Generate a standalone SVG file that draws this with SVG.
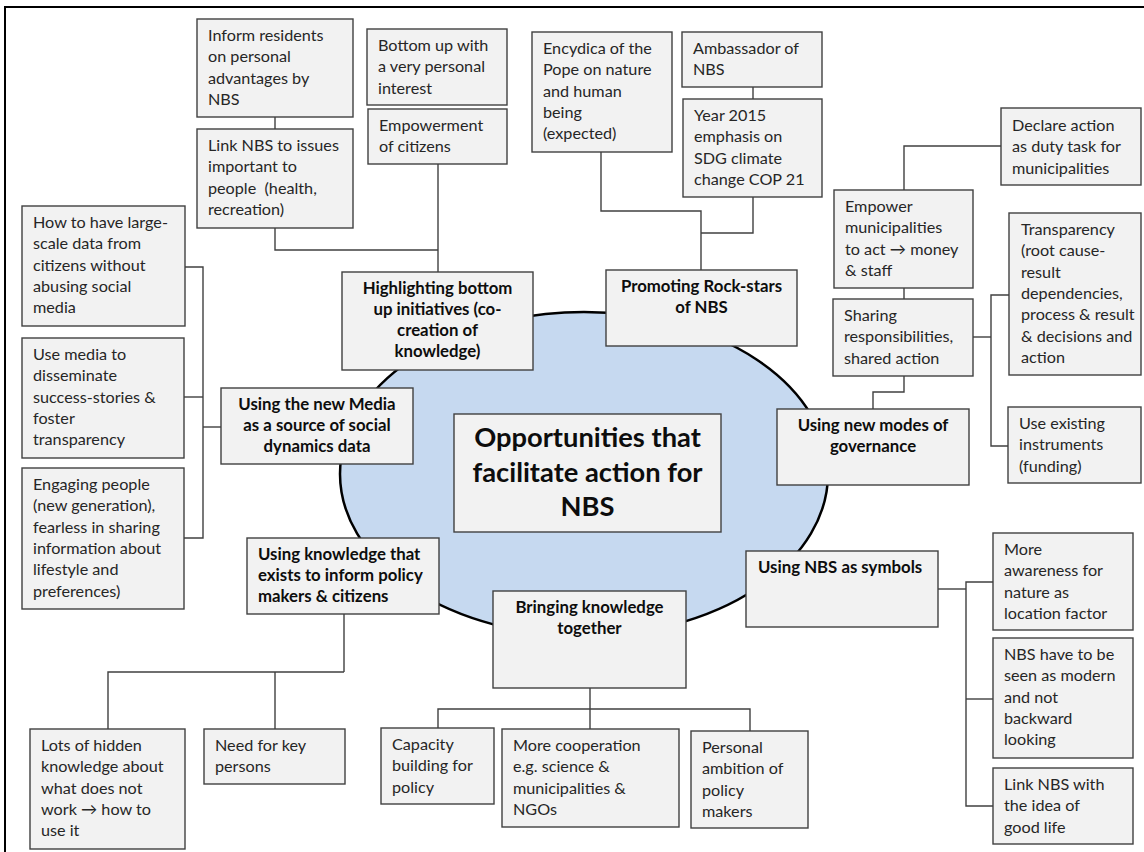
<svg xmlns="http://www.w3.org/2000/svg" width="1144" height="852" viewBox="0 0 1144 852">
<style>
.box{fill:#f2f2f2;stroke:#404040;stroke-width:1.4}
.t{font-family:Lato,"Liberation Sans",sans-serif;font-size:16.2px;fill:#262626}
.b{font-family:Lato,"Liberation Sans",sans-serif;font-size:16.8px;font-weight:bold;fill:#0d0d0d;text-anchor:middle}
.bl{font-family:Lato,"Liberation Sans",sans-serif;font-size:16.8px;font-weight:bold;fill:#0d0d0d}
.c{font-family:Lato,"Liberation Sans",sans-serif;font-size:27.3px;font-weight:bold;fill:#0d0d0d;text-anchor:middle}
.ln{fill:none;stroke:#404040;stroke-width:1.4}
</style>
<rect width="1144" height="852" fill="#fff"/>
<path d="M5,852 V7 H1144" fill="none" stroke="#000" stroke-width="2"/>
<ellipse cx="584" cy="474" rx="244" ry="162" fill="#c6d9f0" stroke="#000" stroke-width="2.5"/>
<g id="connectors" class="ln">
<path d="M275,117 V129"/>
<path d="M275,228 V250 H438"/>
<path d="M438,164 V272"/>
<path d="M601,152 V211 H701 V270"/>
<path d="M753,197 V233 H701"/>
<path d="M753,87 V99"/>
<path d="M1001,146 H904 V190"/>
<path d="M904,288 V299"/>
<path d="M904,376 V392 H873 V409"/>
<path d="M973,337 H991"/>
<path d="M1009,295 H991 V446 H1008"/>
<path d="M185,267 H203 V538 H184"/>
<path d="M184,397 H203"/>
<path d="M203,427 H221"/>
<path d="M344,614 V672"/>
<path d="M108,729 V672 H344"/>
<path d="M275,672 V729"/>
<path d="M590,688 V729"/>
<path d="M438,728 V709 H750 V731"/>
<path d="M938,589 H966"/>
<path d="M993,582 H966 V806 H993"/>
<path d="M966,699 H993"/>
</g>
<g id="center">
<rect class="box" x="454" y="414" width="267" height="118"/>
<text class="c" x="587.5" y="447"><tspan x="587.5">Opportunities that</tspan><tspan x="587.5" dy="34.5">facilitate action for</tspan><tspan x="587.5" dy="34.5">NBS</tspan></text>
</g>
<g id="inform">
<rect class="box" x="197" y="19" width="156" height="98"/>
<text class="t" x="208" y="41"><tspan x="208">Inform residents</tspan><tspan x="208" dy="21.3">on personal</tspan><tspan x="208" dy="21.3">advantages by</tspan><tspan x="208" dy="21.3">NBS</tspan></text>
</g>
<g id="linkissues">
<rect class="box" x="197" y="129" width="156" height="99"/>
<text class="t" x="208" y="151"><tspan x="208">Link NBS to issues</tspan><tspan x="208" dy="21.3">important to</tspan><tspan x="208" dy="21.3">people &#160;(health,</tspan><tspan x="208" dy="21.3">recreation)</tspan></text>
</g>
<g id="bottomup">
<rect class="box" x="367" y="29" width="140" height="76"/>
<text class="t" x="378" y="51"><tspan x="378">Bottom up with</tspan><tspan x="378" dy="21.3">a very personal</tspan><tspan x="378" dy="21.3">interest</tspan></text>
</g>
<g id="empowerment">
<rect class="box" x="368" y="109" width="139" height="55"/>
<text class="t" x="379" y="131"><tspan x="379">Empowerment</tspan><tspan x="379" dy="21.3">of citizens</tspan></text>
</g>
<g id="encydica">
<rect class="box" x="532" y="32" width="140" height="120"/>
<text class="t" x="543" y="54"><tspan x="543">Encydica of the</tspan><tspan x="543" dy="21.3">Pope on nature</tspan><tspan x="543" dy="21.3">and human</tspan><tspan x="543" dy="21.3">being</tspan><tspan x="543" dy="21.3">(expected)</tspan></text>
</g>
<g id="ambassador">
<rect class="box" x="682" y="32" width="140" height="55"/>
<text class="t" x="693" y="54"><tspan x="693">Ambassador of</tspan><tspan x="693" dy="21.3">NBS</tspan></text>
</g>
<g id="year2015">
<rect class="box" x="683" y="99" width="139" height="98"/>
<text class="t" x="694" y="121"><tspan x="694">Year 2015</tspan><tspan x="694" dy="21.3">emphasis on</tspan><tspan x="694" dy="21.3">SDG climate</tspan><tspan x="694" dy="21.3">change COP 21</tspan></text>
</g>
<g id="declare">
<rect class="box" x="1001" y="108" width="140" height="77"/>
<text class="t" x="1012" y="131"><tspan x="1012">Declare action</tspan><tspan x="1012" dy="21.3">as duty task for</tspan><tspan x="1012" dy="21.3">municipalities</tspan></text>
</g>
<g id="empower">
<rect class="box" x="834" y="190" width="139" height="98"/>
<text class="t" x="845" y="212"><tspan x="845">Empower</tspan><tspan x="845" dy="21.3">municipalities</tspan><tspan x="845" dy="21.3">to act → money</tspan><tspan x="845" dy="21.3">&amp; staff</tspan></text>
</g>
<g id="sharing">
<rect class="box" x="833" y="299" width="140" height="77"/>
<text class="t" x="844" y="321"><tspan x="844">Sharing</tspan><tspan x="844" dy="21.3">responsibilities,</tspan><tspan x="844" dy="21.3">shared action</tspan></text>
</g>
<g id="transparency">
<rect class="box" x="1009" y="213" width="132" height="162"/>
<text class="t" x="1021" y="235"><tspan x="1021">Transparency</tspan><tspan x="1021" dy="21.3">(root cause-</tspan><tspan x="1021" dy="21.3">result</tspan><tspan x="1021" dy="21.3">dependencies,</tspan><tspan x="1021" dy="21.3">process &amp; result</tspan><tspan x="1021" dy="21.3">&amp; decisions and</tspan><tspan x="1021" dy="21.3">action</tspan></text>
</g>
<g id="existing">
<rect class="box" x="1008" y="407" width="133" height="76"/>
<text class="t" x="1019" y="429"><tspan x="1019">Use existing</tspan><tspan x="1019" dy="21.3">instruments</tspan><tspan x="1019" dy="21.3">(funding)</tspan></text>
</g>
<g id="governance">
<rect class="box" x="777" y="409" width="192" height="76"/>
<text class="b" x="873" y="431"><tspan x="873">Using new modes of</tspan><tspan x="873" dy="21">governance</tspan></text>
</g>
<g id="promoting">
<rect class="box" x="606" y="270" width="191" height="76"/>
<text class="b" x="701.5" y="292"><tspan x="701.5">Promoting Rock-stars</tspan><tspan x="701.5" dy="21">of NBS</tspan></text>
</g>
<g id="highlighting">
<rect class="box" x="342" y="272" width="191" height="98"/>
<text class="b" x="437.5" y="294"><tspan x="437.5">Highlighting bottom</tspan><tspan x="437.5" dy="21">up initiatives (co-</tspan><tspan x="437.5" dy="21">creation of</tspan><tspan x="437.5" dy="21">knowledge)</tspan></text>
</g>
<g id="howto">
<rect class="box" x="22" y="206" width="163" height="120"/>
<text class="t" x="33" y="228"><tspan x="33">How to have large-</tspan><tspan x="33" dy="21.3">scale data from</tspan><tspan x="33" dy="21.3">citizens without</tspan><tspan x="33" dy="21.3">abusing social</tspan><tspan x="33" dy="21.3">media</tspan></text>
</g>
<g id="usemedia">
<rect class="box" x="22" y="338" width="162" height="120"/>
<text class="t" x="33" y="360"><tspan x="33">Use media to</tspan><tspan x="33" dy="21.3">disseminate</tspan><tspan x="33" dy="21.3">success-stories &amp;</tspan><tspan x="33" dy="21.3">foster</tspan><tspan x="33" dy="21.3">transparency</tspan></text>
</g>
<g id="engaging">
<rect class="box" x="22" y="468" width="162" height="141"/>
<text class="t" x="33" y="490"><tspan x="33">Engaging people</tspan><tspan x="33" dy="21.3">(new generation),</tspan><tspan x="33" dy="21.3">fearless in sharing</tspan><tspan x="33" dy="21.3">information about</tspan><tspan x="33" dy="21.3">lifestyle and</tspan><tspan x="33" dy="21.3">preferences)</tspan></text>
</g>
<g id="newmedia">
<rect class="box" x="221" y="388" width="192" height="76"/>
<text class="b" x="317" y="410"><tspan x="317">Using the new Media</tspan><tspan x="317" dy="21">as a source of social</tspan><tspan x="317" dy="21">dynamics data</tspan></text>
</g>
<g id="knowledge">
<rect class="box" x="247" y="538" width="192" height="76"/>
<text class="bl" x="258" y="560"><tspan x="258">Using knowledge that</tspan><tspan x="258" dy="21">exists to inform policy</tspan><tspan x="258" dy="21">makers &amp; citizens</tspan></text>
</g>
<g id="bringing">
<rect class="box" x="493" y="591" width="193" height="97"/>
<text class="b" x="589.5" y="613"><tspan x="589.5">Bringing knowledge</tspan><tspan x="589.5" dy="21">together</tspan></text>
</g>
<g id="symbols">
<rect class="box" x="746" y="551" width="192" height="76"/>
<text class="bl" x="758" y="573">Using NBS as symbols</text>
</g>
<g id="lots">
<rect class="box" x="30" y="729" width="155" height="120"/>
<text class="t" x="41" y="751"><tspan x="41">Lots of hidden</tspan><tspan x="41" dy="21.3">knowledge about</tspan><tspan x="41" dy="21.3">what does not</tspan><tspan x="41" dy="21.3">work → how to</tspan><tspan x="41" dy="21.3">use it</tspan></text>
</g>
<g id="keypersons">
<rect class="box" x="204" y="729" width="141" height="55"/>
<text class="t" x="215" y="751"><tspan x="215">Need for key</tspan><tspan x="215" dy="21.3">persons</tspan></text>
</g>
<g id="capacity">
<rect class="box" x="381" y="728" width="113" height="76"/>
<text class="t" x="392" y="750"><tspan x="392">Capacity</tspan><tspan x="392" dy="21.3">building for</tspan><tspan x="392" dy="21.3">policy</tspan></text>
</g>
<g id="cooperation">
<rect class="box" x="502" y="729" width="177" height="98"/>
<text class="t" x="513" y="751"><tspan x="513">More cooperation</tspan><tspan x="513" dy="21.3">e.g. science &amp;</tspan><tspan x="513" dy="21.3">municipalities &amp;</tspan><tspan x="513" dy="21.3">NGOs</tspan></text>
</g>
<g id="ambition">
<rect class="box" x="691" y="731" width="117" height="97"/>
<text class="t" x="702" y="753"><tspan x="702">Personal</tspan><tspan x="702" dy="21.3">ambition of</tspan><tspan x="702" dy="21.3">policy</tspan><tspan x="702" dy="21.3">makers</tspan></text>
</g>
<g id="awareness">
<rect class="box" x="993" y="533" width="140" height="97"/>
<text class="t" x="1004" y="555"><tspan x="1004">More</tspan><tspan x="1004" dy="21.3">awareness for</tspan><tspan x="1004" dy="21.3">nature as</tspan><tspan x="1004" dy="21.3">location factor</tspan></text>
</g>
<g id="modern">
<rect class="box" x="993" y="638" width="140" height="120"/>
<text class="t" x="1004" y="660"><tspan x="1004">NBS have to be</tspan><tspan x="1004" dy="21.3">seen as modern</tspan><tspan x="1004" dy="21.3">and not</tspan><tspan x="1004" dy="21.3">backward</tspan><tspan x="1004" dy="21.3">looking</tspan></text>
</g>
<g id="goodlife">
<rect class="box" x="993" y="768" width="140" height="76"/>
<text class="t" x="1004" y="790"><tspan x="1004">Link NBS with</tspan><tspan x="1004" dy="21.3">the idea of</tspan><tspan x="1004" dy="21.3">good life</tspan></text>
</g>
</svg>
